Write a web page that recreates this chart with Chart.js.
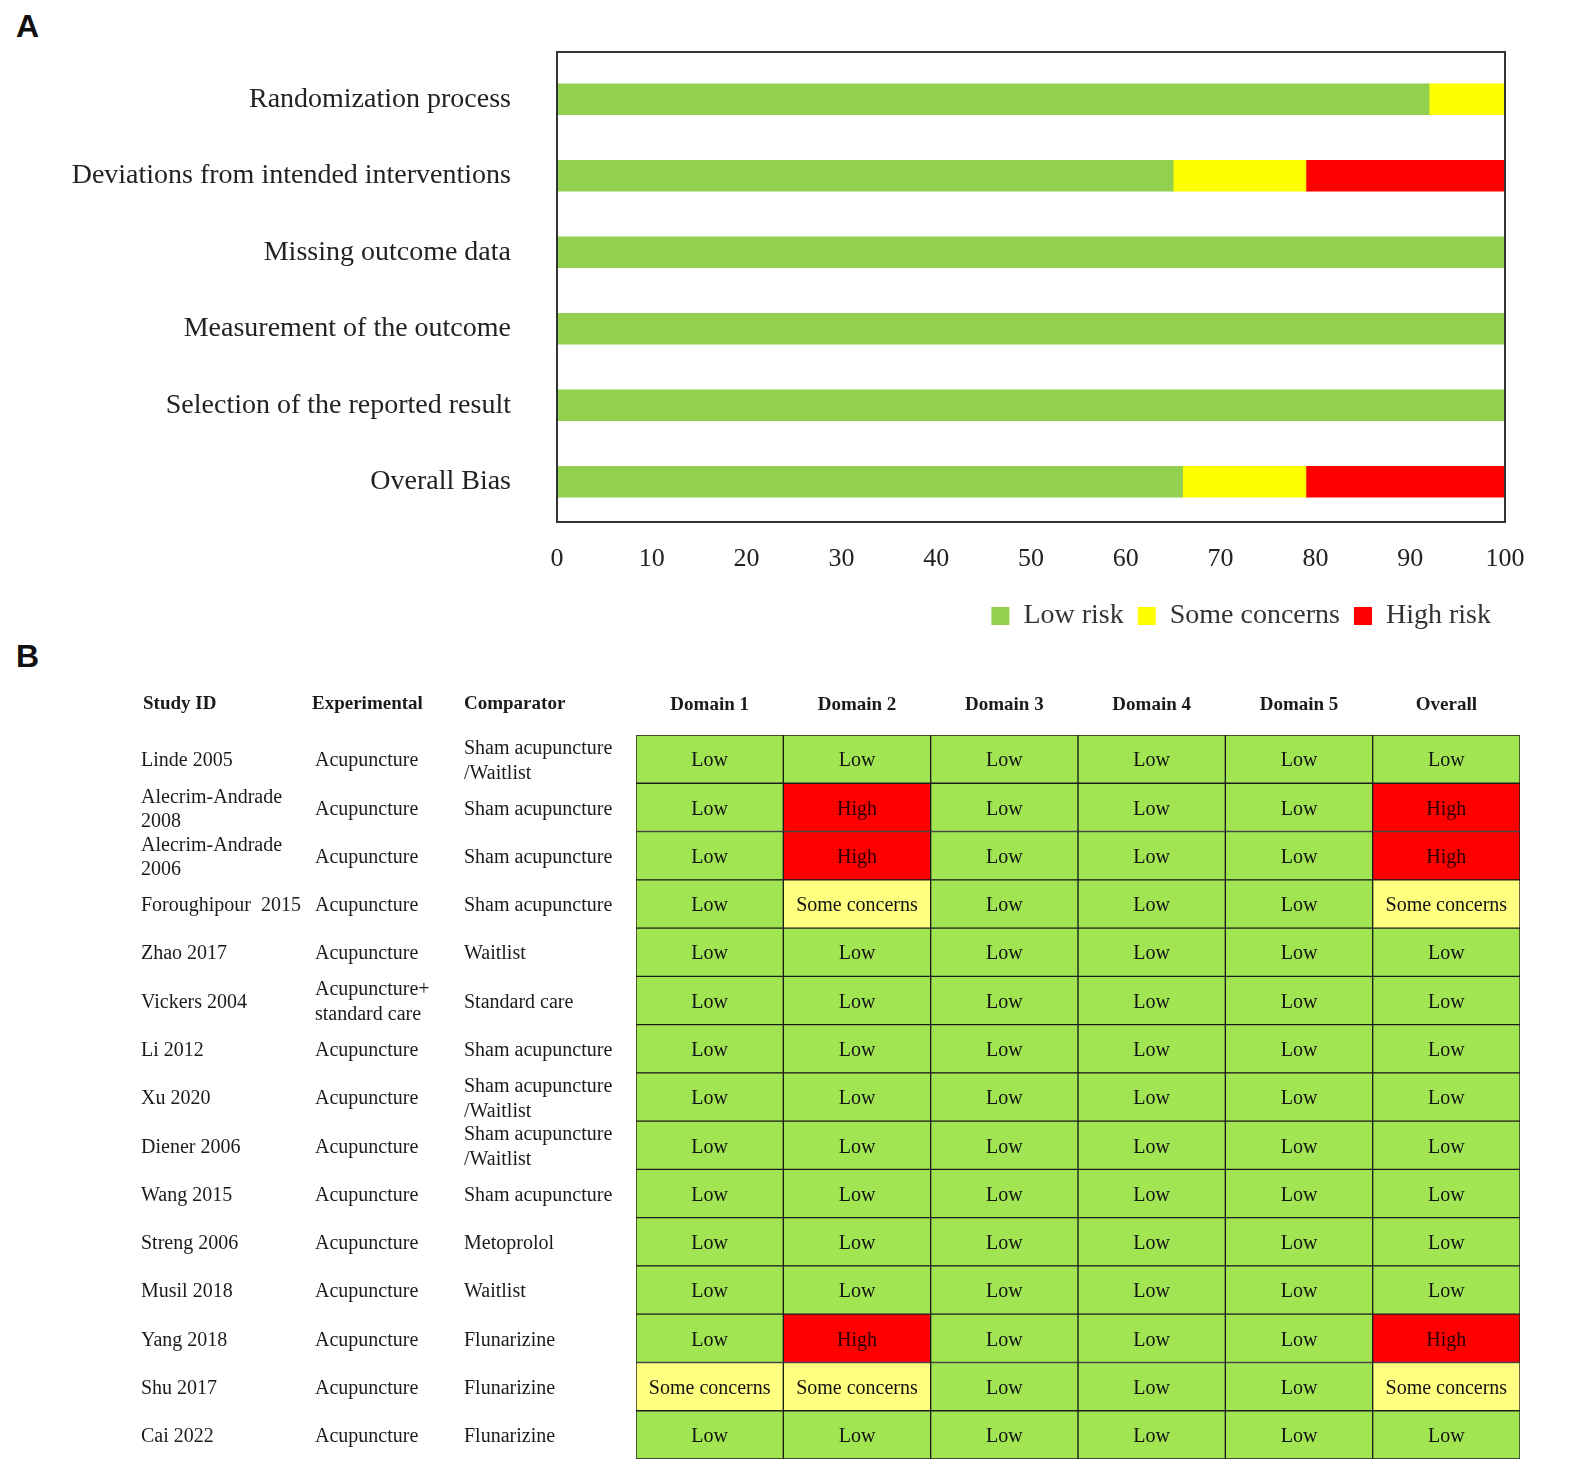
<!DOCTYPE html>
<html lang="en">
<head>
    <meta charset="UTF-8">
    <title>Risk of bias assessment</title>
    <script src="https://cdn.jsdelivr.net/npm/chart.js"></script>
    <style>
        body {
            margin: 0;
            background: #ffffff;
            width: 1571px;
            height: 1466px;
            position: relative;
            overflow: hidden;
        }

        /* panel letters */
        .panel-tag {
            position: absolute;
            font-family: "Liberation Sans", Arial, sans-serif;
            font-weight: bold;
            font-size: 32px;
            color: #111;
        }

        #wrap-a { position: absolute; left: 0; top: 0; width: 1571px; height: 640px; }
        #wrap-b { position: absolute; left: 0; top: 640px; width: 1571px; height: 826px; }
    </style>
</head>
<body>
    <div class="panel-tag" style="left:16px; top:8px;">A</div>
    <div class="panel-tag" style="left:16px; top:638px;">B</div>

    <!-- A: summary bar plot -->
    <div id="wrap-a"><canvas id="summary-chart"></canvas></div>

    <!-- B: traffic light table -->
    <div id="wrap-b"><canvas id="traffic-chart"></canvas></div>

    <script>
        // ---------- Panel A data (percent of studies) ----------
        const biasDomains = [
            'Randomization process',
            'Deviations from intended interventions',
            'Missing outcome data',
            'Measurement of the outcome',
            'Selection of the reported result',
            'Overall Bias'
        ];
        const lowRisk      = [92, 65, 100, 100, 100, 66];
        const someConcerns = [8, 14, 0, 0, 0, 13];
        const highRisk     = [0, 21, 0, 0, 0, 21];

        // ---------- Panel B data ----------
        const columnHeaders = ['Study ID', 'Experimental', 'Comparator'];
        const studyIds = [
            'Linde 2005',
            ['Alecrim-Andrade', '2008'],
            ['Alecrim-Andrade', '2006'],
            'Foroughipour  2015',
            'Zhao 2017',
            'Vickers 2004',
            'Li 2012',
            'Xu 2020',
            'Diener 2006',
            'Wang 2015',
            'Streng 2006',
            'Musil 2018',
            'Yang 2018',
            'Shu 2017',
            'Cai 2022'
        ];
        const experimental = [
            'Acupuncture', 'Acupuncture', 'Acupuncture', 'Acupuncture', 'Acupuncture',
            ['Acupuncture+', 'standard care'],
            'Acupuncture', 'Acupuncture', 'Acupuncture', 'Acupuncture',
            'Acupuncture', 'Acupuncture', 'Acupuncture', 'Acupuncture', 'Acupuncture'
        ];
        const comparator = [
            ['Sham acupuncture', '/Waitlist'],
            'Sham acupuncture',
            'Sham acupuncture',
            'Sham acupuncture',
            'Waitlist',
            'Standard care',
            'Sham acupuncture',
            ['Sham acupuncture', '/Waitlist'],
            ['Sham acupuncture', '/Waitlist'],
            'Sham acupuncture',
            'Metoprolol',
            'Waitlist',
            'Flunarizine',
            'Flunarizine',
            'Flunarizine'
        ];
        const domainNames = ['Domain 1', 'Domain 2', 'Domain 3', 'Domain 4', 'Domain 5', 'Overall'];

        const L = 'Low', S = 'Some concerns', H = 'High';
        const domain1 = [L, L, L, L, L, L, L, L, L, L, L, L, L, S, L];
        const domain2 = [L, H, H, S, L, L, L, L, L, L, L, L, H, S, L];
        const domain3 = [L, L, L, L, L, L, L, L, L, L, L, L, L, L, L];
        const domain4 = [L, L, L, L, L, L, L, L, L, L, L, L, L, L, L];
        const domain5 = [L, L, L, L, L, L, L, L, L, L, L, L, L, L, L];
        const overall = [L, H, H, S, L, L, L, L, L, L, L, L, H, S, L];
        const judgements = [domain1, domain2, domain3, domain4, domain5, overall];

        // ---------- styles ----------
        const serif = '"Liberation Serif", "Times New Roman", serif';
        const cellColors = { 'Low': '#a2e552', 'Some concerns': '#ffff80', 'High': '#ff0000' };

        // box around the plot area of panel A
        const frameBox = {
            id: 'frameBox',
            afterDraw(chart) {
                const { ctx, chartArea: a } = chart;
                ctx.save();
                ctx.strokeStyle = '#333';
                ctx.lineWidth = 2;
                ctx.strokeRect(a.left, a.top - 9, a.right - a.left, a.bottom - a.top + 11);
                ctx.restore();
            }
        };

        new Chart(document.getElementById('summary-chart'), {
            type: 'bar',
            data: {
                labels: biasDomains,
                datasets: [
                    { label: 'Low risk', data: lowRisk, backgroundColor: '#92d050' },
                    { label: 'Some concerns', data: someConcerns, backgroundColor: '#ffff00' },
                    { label: 'High risk', data: highRisk, backgroundColor: '#ff0000' }
                ]
            },
            options: {
                indexAxis: 'y',
                responsive: true,
                maintainAspectRatio: false,
                animation: false,
                layout: { padding: { left: 0, right: 66, top: 61, bottom: 0 } },
                datasets: { bar: { barThickness: 31, borderWidth: 0 } },
                scales: {
                    x: {
                        stacked: true,
                        min: 0,
                        max: 100,
                        ticks: { stepSize: 10, padding: 24, color: '#222', font: { family: serif, size: 26 } },
                        grid: { display: false, drawTicks: false },
                        border: { display: false },
                        afterFit(scale) { scale.height = 68; }
                    },
                    y: {
                        stacked: true,
                        ticks: { padding: 46, color: '#222', font: { family: serif, size: 28 } },
                        grid: { display: false, drawTicks: false },
                        border: { display: false },
                        afterFit(scale) {
                            scale.width = 557;
                            scale.paddingTop = 0;
                            scale.paddingBottom = 0;
                        }
                    }
                },
                plugins: {
                    legend: {
                        position: 'bottom',
                        align: 'end',
                        labels: {
                            boxWidth: 18,
                            boxHeight: 18,
                            padding: 14,
                            color: '#333',
                            font: { family: serif, size: 28 }
                        }
                    },
                    tooltip: { enabled: false }
                }
            },
            plugins: [frameBox]
        });

        // text columns left of the grid, and the judgement in each cell
        const tableText = {
            id: 'tableText',
            afterDraw(chart) {
                const { ctx, chartArea } = chart;
                const yScale = chart.scales.y;
                ctx.save();
                ctx.textBaseline = 'middle';
                ctx.textAlign = 'left';
                ctx.fillStyle = '#1a1a1a';

                const headY = chartArea.top - 31;
                ctx.font = 'bold 19px ' + serif;
                [143, 312, 464].forEach((x, k) => ctx.fillText(columnHeaders[k], x, headY));

                ctx.font = '20px ' + serif;
                studyIds.forEach((_, i) => {
                    const cy = yScale.getPixelForValue(i) + 2;
                    [[experimental[i], 315], [comparator[i], 464]].forEach(([txt, x]) => {
                        const lines = [].concat(txt);
                        lines.forEach((line, k) => {
                            ctx.fillText(line, x, cy + (k - (lines.length - 1) / 2) * 25);
                        });
                    });
                });

                ctx.textAlign = 'center';
                chart.data.datasets.forEach((ds, d) => {
                    chart.getDatasetMeta(d).data.forEach((bar, i) => {
                        const j = judgements[d][i];
                        ctx.fillStyle = j === 'High' ? '#2a0000' : '#111';
                        ctx.fillText(j, (bar.x + bar.base) / 2, bar.y + 2);
                    });
                });
                ctx.restore();
            }
        };

        new Chart(document.getElementById('traffic-chart'), {
            type: 'bar',
            data: {
                labels: studyIds,
                datasets: domainNames.map((name, d) => ({
                    label: name,
                    data: studyIds.map(() => 1),   // one unit-wide cell per study
                    backgroundColor: judgements[d].map(j => cellColors[j]),
                    borderColor: '#1c1c1c',
                    borderWidth: 1,
                    borderSkipped: false
                }))
            },
            options: {
                indexAxis: 'y',
                responsive: true,
                maintainAspectRatio: false,
                animation: false,
                layout: { padding: { left: 141, right: 51, top: 0, bottom: 7 } },
                datasets: { bar: { barPercentage: 1, categoryPercentage: 1 } },
                scales: {
                    x: { type: 'linear', stacked: true, min: 0, max: 6, display: false },
                    xTop: {
                        type: 'category',
                        labels: domainNames,
                        position: 'top',
                        offset: true,
                        grid: { display: false, drawTicks: false },
                        border: { display: false },
                        ticks: { padding: 19, color: '#1a1a1a', font: { family: serif, size: 19, weight: 'bold' } },
                        afterFit(scale) { scale.height = 95; }
                    },
                    y: {
                        stacked: true,
                        grid: { display: false, drawTicks: false },
                        border: { display: false },
                        ticks: { autoSkip: false, crossAlign: 'far', labelOffset: 2, color: '#1a1a1a', font: { family: serif, size: 20 } },
                        afterFit(scale) {
                            scale.width = 495;
                            scale.paddingTop = 0;
                            scale.paddingBottom = 0;
                        }
                    }
                },
                plugins: {
                    legend: { display: false },
                    tooltip: { enabled: false }
                }
            },
            plugins: [tableText]
        });
    </script>
</body>
</html>
